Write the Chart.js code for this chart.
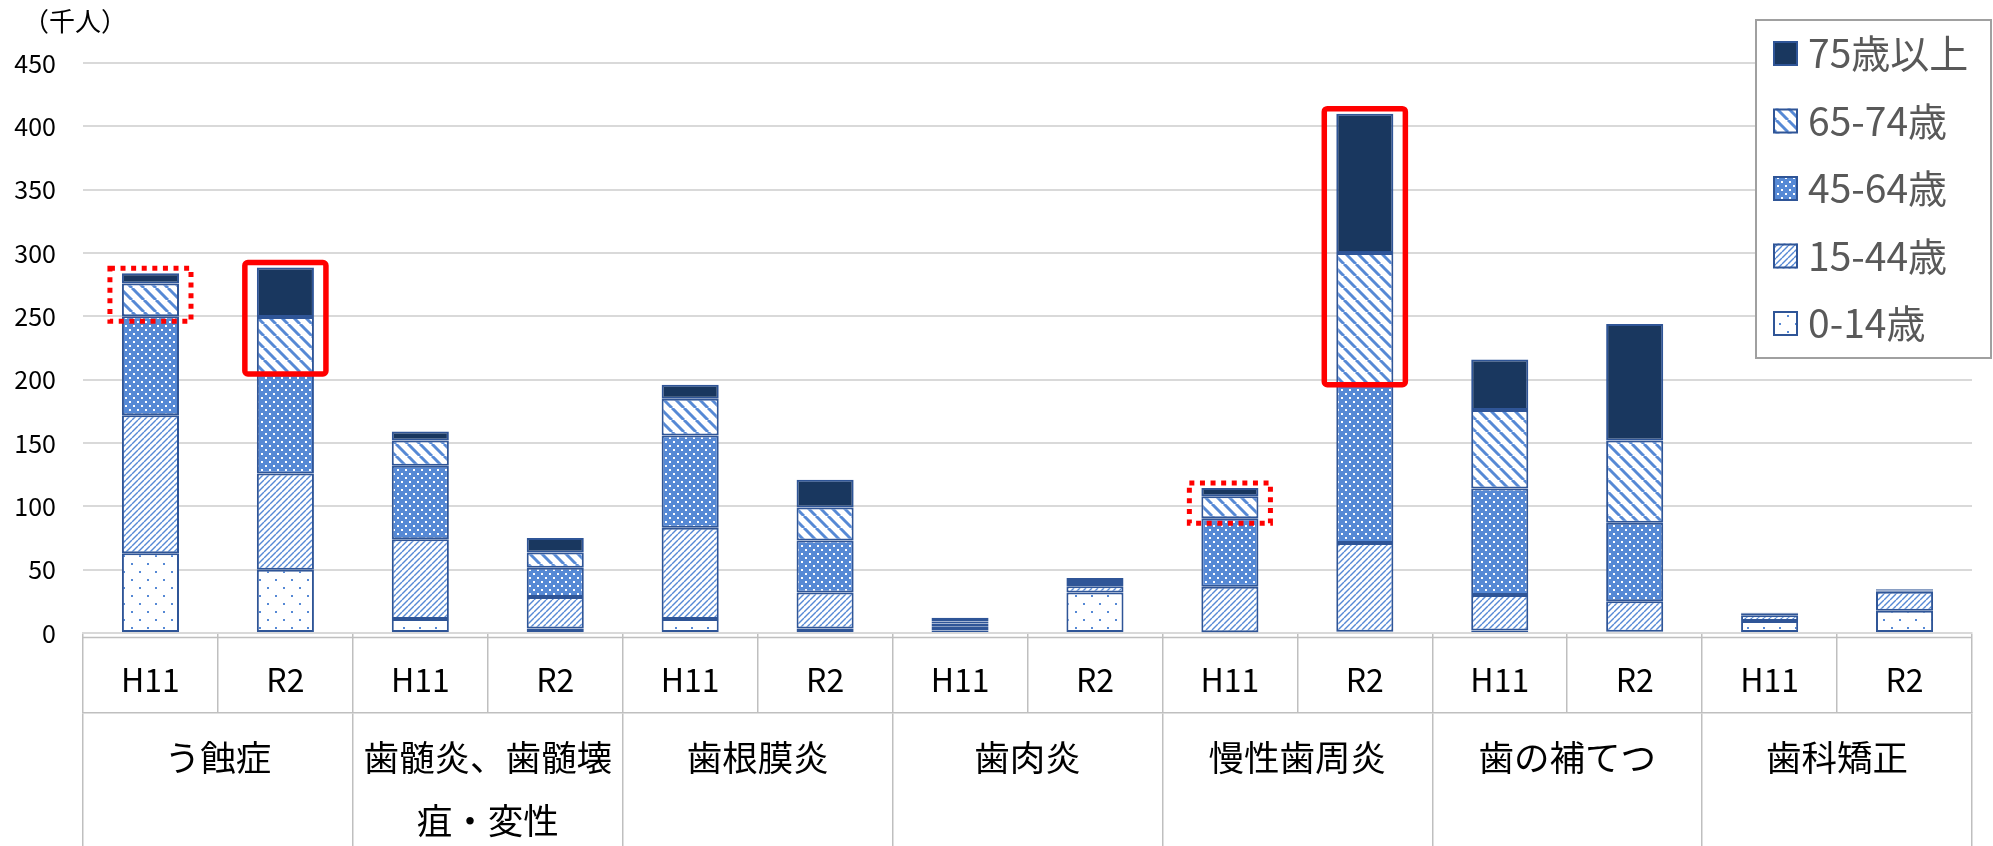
<!DOCTYPE html>
<html>
<head>
<meta charset="utf-8">
<script src="https://cdn.jsdelivr.net/npm/chart.js@4.4.0/dist/chart.umd.min.js"></script>
<style>
body { margin: 0; background: #fff; }
#wrap { width: 1993px; height: 846px; position: relative; }
</style>
</head>
<body>
<div id="wrap"><canvas id="myChart"></canvas></div>
<script>
// categories
const subLabels = ['H11', 'R2', 'H11', 'R2', 'H11', 'R2', 'H11', 'R2', 'H11', 'R2', 'H11', 'R2', 'H11', 'R2'];
const groupLabels = ['う蝕症', ['歯髄炎、歯髄壊', '疽・変性'], '歯根膜炎', '歯肉炎', '慢性歯周炎', '歯の補てつ', '歯科矯正'];
const seriesNames = ['0-14歳', '15-44歳', '45-64歳', '65-74歳', '75歳以上'];

// values (千人)
const age0_14  = [63, 50, 11, 3.5, 11, 3.5, 2, 32, 0.5, 1, 2, 1, 9.5, 17.5];
const age15_44 = [109, 76, 63, 25, 72, 28.5, 3, 5, 36, 70, 28, 24, 4.5, 15];
const age45_64 = [78, 78.5, 58, 23, 73, 41, 2.5, 2.5, 54, 125, 84, 62, 1, 1];
const age65_74 = [26, 45, 20, 12, 29, 26, 1.5, 1.5, 17.5, 104, 62, 65, 0.5, 0.5];
const age75up  = [8, 39, 7, 11.5, 11, 22, 3, 2.5, 6.5, 110, 40, 92, 0.5, 0.5];

// y axis
const yMax = 450;
const yStep = 50;
const unitLabel = '（千人）';

// bars that get the red frames (index into subLabels)
const solidFrame = [1, 9];
const dottedFrame = [0, 8];

const blue = '#5689D5';
const navy = '#19375F';
const edge = '#2F5597';
const font = '"Noto Sans CJK JP", "Noto Sans", sans-serif';

function makePattern(kind) {
    const c = document.createElement('canvas');
    const g = c.getContext('2d');
    let s = 8;
    if (kind === 'sparse') {
        s = 16; c.width = s; c.height = s;
        g.fillStyle = '#fff'; g.fillRect(0, 0, s, s);
        g.fillStyle = blue;
        g.fillRect(3, 3, 2, 2); g.fillRect(11, 11, 2, 2);
    } else if (kind === 'fine') {
        s = 6; c.width = s; c.height = s;
        g.fillStyle = '#fff'; g.fillRect(0, 0, s, s);
        g.strokeStyle = blue; g.lineWidth = 1.4;
        for (let k = -1; k <= 1; k++) {
            g.beginPath(); g.moveTo(k * s, s); g.lineTo(k * s + s, 0); g.stroke();
        }
    } else if (kind === 'dense') {
        s = 8; c.width = s; c.height = s;
        g.fillStyle = blue; g.fillRect(0, 0, s, s);
        g.fillStyle = '#fff';
        g.fillRect(1, 1, 2, 2); g.fillRect(5, 5, 2, 2);
    } else if (kind === 'wide') {
        s = 12; c.width = s; c.height = s;
        g.fillStyle = '#fff'; g.fillRect(0, 0, s, s);
        g.strokeStyle = blue; g.lineWidth = 3;
        for (let k = -1; k <= 1; k++) {
            g.beginPath(); g.moveTo(k * s, 0); g.lineTo(k * s + s, s); g.stroke();
        }
    }
    return g.createPattern(c, 'repeat');
}

const fills = [makePattern('sparse'), makePattern('fine'), makePattern('dense'), makePattern('wide'), navy];
const series = [age0_14, age15_44, age45_64, age65_74, age75up];

const datasets = series.map(function (vals, i) {
    return {
        label: seriesNames[i],
        data: vals,
        backgroundColor: fills[i],
        borderColor: edge,
        borderWidth: 2,
        borderSkipped: false,
        barPercentage: 0.423,
        categoryPercentage: 1
    };
});

const overlay = {
    id: 'overlay',
    afterDatasetsDraw(chart) {
        const ctx = chart.ctx;
        const low = chart.getDatasetMeta(3).data;
        const high = chart.getDatasetMeta(4).data;
        function frame(i, dotted) {
            const t = high[i], b = low[i];
            const x0 = t.x - t.width / 2 - 12;
            const x1 = t.x + t.width / 2 + 12;
            const y0 = t.y - 5;
            const y1 = b.base + (dotted ? 5 : 0);
            ctx.save();
            ctx.strokeStyle = '#FF0000';
            ctx.beginPath();
            if (dotted) {
                ctx.lineWidth = 5;
                ctx.setLineDash([5, 5.6]);
                ctx.rect(x0, y0, x1 - x0, y1 - y0);
            } else {
                ctx.lineWidth = 5.5;
                if (ctx.roundRect) ctx.roundRect(x0, y0, x1 - x0, y1 - y0, 3);
                else ctx.rect(x0, y0, x1 - x0, y1 - y0);
            }
            ctx.stroke();
            ctx.restore();
        }
        solidFrame.forEach(function (i) { frame(i, false); });
        dottedFrame.forEach(function (i) { frame(i, true); });
    },
    afterDraw(chart) {
        const ctx = chart.ctx;
        const xs = chart.scales.x;
        ctx.save();
        // table top edge
        ctx.strokeStyle = '#BFBFBF';
        ctx.lineWidth = 1.5;
        ctx.beginPath();
        ctx.moveTo(xs.left, xs.top + 4.5);
        ctx.lineTo(xs.right, xs.top + 4.5);
        ctx.stroke();

        // unit label
        ctx.fillStyle = '#000';
        ctx.font = '26px ' + font;
        ctx.textBaseline = 'middle';
        ctx.textAlign = 'left';
        ctx.fillText(unitLabel, 23, 21);

        // legend box
        const lx = chart.width - 237, ly = 20, lw = 235, lh = 338;
        ctx.fillStyle = '#fff';
        ctx.fillRect(lx, ly, lw, lh);
        ctx.strokeStyle = '#A0A0A0';
        ctx.lineWidth = 2;
        ctx.strokeRect(lx, ly, lw, lh);
        ctx.font = '39px ' + font;
        for (let k = 0; k < 5; k++) {
            const ds = chart.data.datasets[4 - k];
            const cy = ly + 33.5 + k * 67.5;
            ctx.fillStyle = ds.backgroundColor;
            ctx.fillRect(lx + 17, cy - 12.5, 25, 25);
            ctx.strokeStyle = edge;
            ctx.lineWidth = 2;
            ctx.strokeRect(lx + 18, cy - 11.5, 23, 23);
            ctx.fillStyle = '#595959';
            ctx.fillText(ds.label, lx + 52, cy);
        }
        ctx.restore();
    }
};

new Chart(document.getElementById('myChart').getContext('2d'), {
    type: 'bar',
    data: { labels: subLabels, datasets: datasets },
    options: {
        responsive: true,
        maintainAspectRatio: false,
        animation: false,
        layout: { padding: { top: 63, right: 21, left: 0, bottom: 0 } },
        plugins: { legend: { display: false }, tooltip: { enabled: false } },
        scales: {
            x: {
                stacked: true,
                position: 'bottom',
                weight: 0,
                afterFit: function (s) { s.height = 80; },
                grid: { offset: true, drawOnChartArea: false, tickLength: 80, color: '#BFBFBF', lineWidth: 1.5 },
                border: { display: true, color: '#D9D9D9', width: 2 },
                ticks: { autoSkip: false, maxRotation: 0, minRotation: 0, padding: -52, color: '#000',
                         font: { family: font, size: 32, lineHeight: 1.2 } }
            },
            x2: {
                type: 'category',
                labels: groupLabels,
                position: 'bottom',
                weight: 1,
                offset: true,
                afterFit: function (s) { s.height = 133; },
                grid: { offset: true, drawOnChartArea: false, tickLength: 133, color: '#BFBFBF', lineWidth: 1.5 },
                border: { display: true, color: '#BFBFBF', width: 1.5 },
                ticks: { autoSkip: false, maxRotation: 0, minRotation: 0, padding: -120, color: '#000',
                         font: { family: font, size: 35.5, lineHeight: 1.775 } }
            },
            y: {
                stacked: true,
                min: 0,
                max: yMax,
                afterFit: function (s) { s.width = 83; },
                grid: { color: '#D9D9D9', lineWidth: 2, drawTicks: false },
                border: { display: false },
                ticks: { stepSize: yStep, padding: 27, color: '#000', font: { family: font, size: 25 } }
            }
        }
    },
    plugins: [overlay]
});
</script>
</body>
</html>
